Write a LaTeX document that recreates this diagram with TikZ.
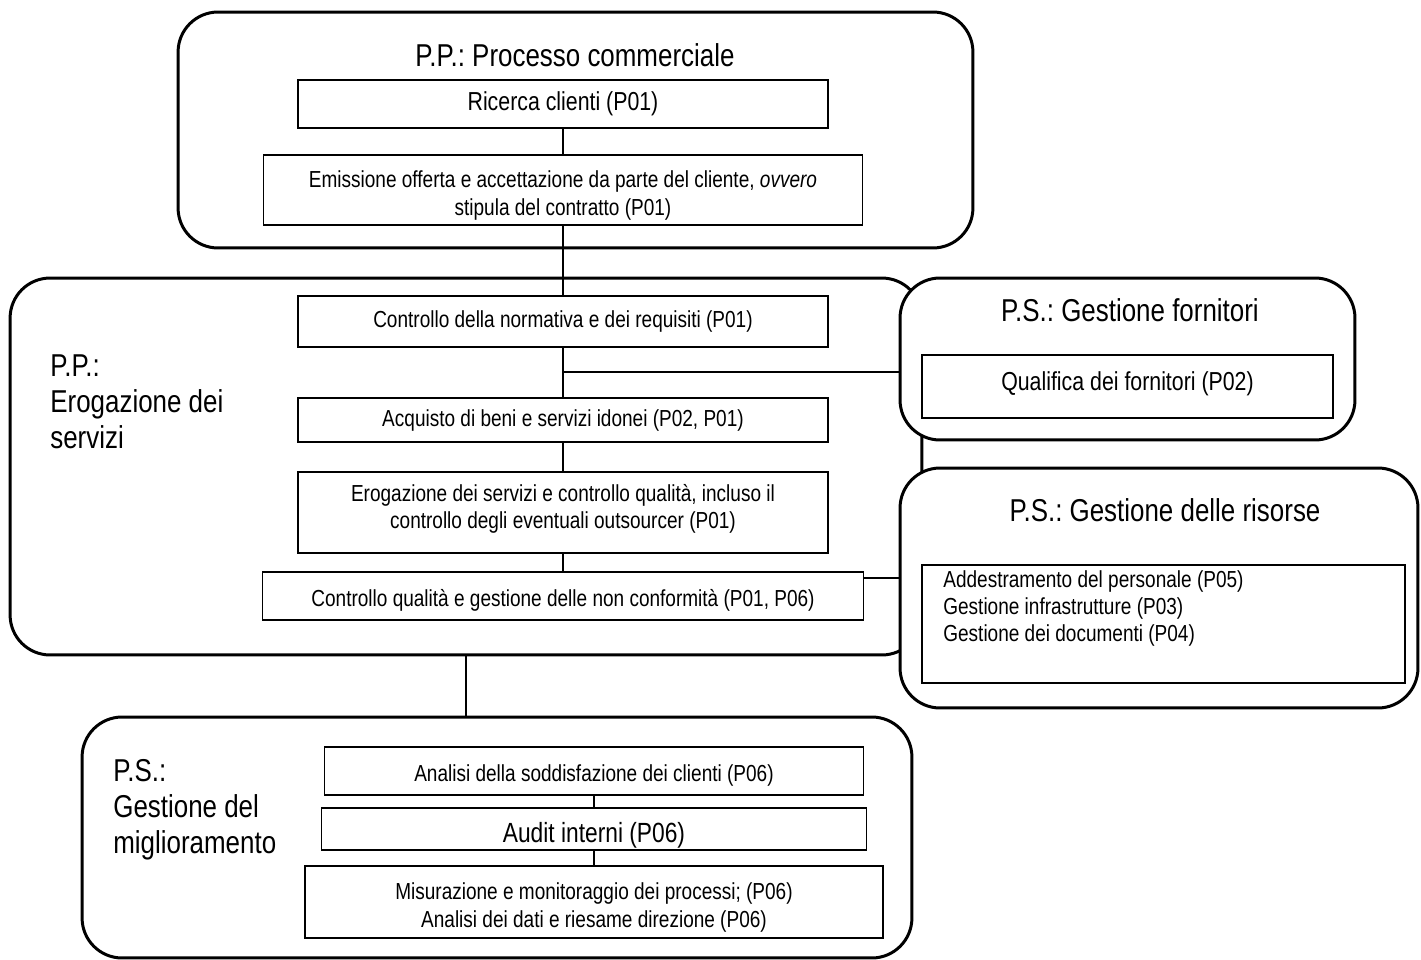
\documentclass[tikz,border=0pt]{standalone}
\usepackage{fontspec}
\setmainfont{Liberation Sans}[FakeStretch=0.82]
\usepackage{tikz}
\usetikzlibrary{calc}
\frenchspacing
\newcommand{\bigtxt}{\fontsize{18}{20.5}\selectfont}
\newcommand{\midtxt}{\fontsize{14.8}{17}\selectfont}
\newcommand{\smalltxt}{\fontsize{13.2}{15.4}\selectfont}
\newcommand{\upstrut}[1]{\rule[-#1]{0pt}{0pt}}
\newcommand{\downstrut}{\rule{0pt}{1.2em}}

\begin{document}
\begin{tikzpicture}[x=0.02cm, y=-0.02cm,
    groupbox/.style={draw, line width=1.7pt, rounded corners=0.8cm, fill=white, inner sep=0pt},
    stepbox/.style={draw, line width=1pt, fill=white, align=center, inner sep=0pt, font=\smalltxt},
    lowtext/.style={execute at begin node={\rule{0pt}{1.15em}}},
    link/.style={black, line width=0.8pt}]
  \useasboundingbox (0,0) rectangle (1421,960);

  \node (midg) at (466,466.5)[groupbox, minimum width=18.24cm, minimum height=7.54cm]{};
  \node (topg) at (575.5,130)[groupbox, minimum width=15.9cm, minimum height=4.72cm]{};
  \node (forng) at (1127.5,359)[groupbox, minimum width=9.1cm, minimum height=3.24cm]{};
  \node (risg) at (1159,588)[groupbox, minimum width=10.36cm, minimum height=4.8cm]{};
  \node (botg) at (497,837.5)[groupbox, minimum width=16.6cm, minimum height=4.82cm]{};

  \node (toptitle) at (575,55)[font=\bigtxt]{P.P.: Processo commerciale};
  \node (midtitle) at (50,354)[anchor=north west, align=left, inner sep=0pt, font=\bigtxt]{P.P.:\\Erogazione dei\\servizi};
  \node (forntitle) at (1130,310)[font=\bigtxt]{P.S.: Gestione fornitori};
  \node (ristitle) at (1165,510)[font=\bigtxt]{P.S.: Gestione delle risorse};
  \node (bottitle) at (113,759)[anchor=north west, align=left, inner sep=0pt, font=\bigtxt]{P.S.:\\Gestione del\\miglioramento};

  \node (ricerca) at (563,104)[stepbox, font=\midtxt, minimum width=10.6cm, minimum height=0.96cm]{Ricerca clienti (P01)};
  \node (emissione) at (563,190)[stepbox, minimum width=11.98cm, minimum height=1.4cm]{\downstrut Emissione offerta e accettazione da parte del cliente, \textit{ovvero}\\stipula del contratto (P01)};

  \node (normativa) at (563,321.5)[stepbox, minimum width=10.6cm, minimum height=1.02cm]{Controllo della normativa e dei requisiti (P01)};
  \node (acquisto) at (563,420)[stepbox, minimum width=10.6cm, minimum height=0.88cm]{Acquisto di beni e servizi idonei (P02, P01)};
  \node (erogazione) at (563,512.5)[stepbox, minimum width=10.6cm, minimum height=1.62cm]{Erogazione dei servizi e controllo qualit\`a, incluso il\\controllo degli eventuali outsourcer (P01)\upstrut{7pt}};
  \node (qualita) at (563,596)[stepbox, lowtext, minimum width=12.02cm, minimum height=0.96cm]{Controllo qualit\`a e gestione delle non conformit\`a (P01, P06)};

  \node (qualifica) at (1127.5,386.5)[stepbox, font=\midtxt, minimum width=8.22cm, minimum height=1.26cm]{Qualifica dei fornitori (P02)\upstrut{6pt}};
  \node (risorse) at (1163.5,624)[stepbox, minimum width=9.66cm, minimum height=2.36cm]{};
  \node (risorsetxt) at (943,570)[anchor=north west, align=left, inner sep=0pt, font=\smalltxt]{Addestramento del personale (P05)\\Gestione infrastrutture (P03)\\Gestione dei documenti (P04)};

  \node (analisi) at (594,771)[stepbox, lowtext, minimum width=10.78cm, minimum height=0.96cm]{Analisi della soddisfazione dei clienti (P06)};
  \node (audit) at (594,829)[stepbox, lowtext, font=\fontsize{15.8}{18}\selectfont, minimum width=10.9cm, minimum height=0.84cm]{Audit interni (P06)};
  \node (misura) at (594,902)[stepbox, minimum width=11.56cm, minimum height=1.44cm]{\downstrut Misurazione e monitoraggio dei processi; (P06)\\Analisi dei dati e riesame direzione (P06)};

  \coordinate (jforn) at (563,372);
  \coordinate (jris) at (863,578);

  \draw [link] (ricerca) -- (emissione);
  \draw [link] (emissione) -- (normativa);
  \draw [link] (normativa) -- (acquisto);
  \draw [link] (jforn) -- (jforn -| forng.west);
  \draw [link] (acquisto) -- (erogazione);
  \draw [link] (erogazione) -- (qualita);
  \draw [link] (jris) -- (jris -| risg.west);
  \draw [link] (midg.south) -- (midg.south |- botg.north);
  \draw [link] (analisi) -- (audit);
  \draw [link] (audit) -- (misura);
\end{tikzpicture}
\end{document}
